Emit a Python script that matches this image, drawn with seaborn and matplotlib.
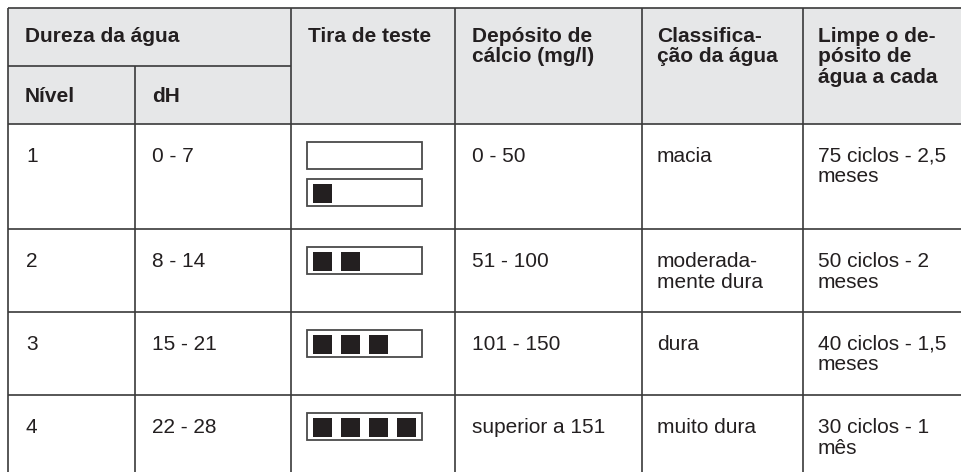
import matplotlib.pyplot as plt
import matplotlib.patches as mpatches
import pandas as pd
import seaborn as sns

# Conteúdo da tabela
header_top = ["Dureza da água", "Tira de teste", "Depósito de\ncálcio (mg/l)",
              "Classifica-\nção da água", "Limpe o de-\npósito de\nágua a cada"]
header_sub = ["Nível", "dH"]
levels = ["1", "2", "3", "4"]
dh_ranges = ["0 - 7", "8 - 14", "15 - 21", "22 - 28"]
strip_marks = [[0, 1], [2], [3], [4]]  # quadrados pretos em cada tira
calcium = ["0 - 50", "51 - 100", "101 - 150", "superior a 151"]
classification = ["macia", "moderada-\nmente dura", "dura", "muito dura"]
cleaning = ["75 ciclos - 2,5\nmeses", "50 ciclos - 2\nmeses",
            "40 ciclos - 1,5\nmeses", "30 ciclos - 1\nmês"]

# Layout (pixels)
W, H = 962, 472
col_x = [8, 135, 291, 455, 642, 803, 980]
head_y = [8, 66, 124]
row_y = [124, 229, 312, 395, 478]
pad_x = 17
line_h = 20.5
fs = 15
txt_color = "#231f20"
grid_color = "#3a3a3a"
head_bg = "#e6e7e8"

sns.set_theme(style="white")
plt.rcParams["font.family"] = ["Liberation Sans", "DejaVu Sans"]

fig = plt.figure(figsize=(W / 100, H / 100), dpi=100)
ax = fig.add_axes([0, 0, 1, 1])
ax.set_xlim(0, W)
ax.set_ylim(H, 0)
ax.axis("off")


def put(x, y, s, bold=False):
    for k, line in enumerate(s.split("\n")):
        ax.text(x, y + k * line_h, line, fontsize=fs, color=txt_color,
                fontweight="bold" if bold else "normal", va="baseline", ha="left")


# fundo do cabeçalho
ax.add_patch(mpatches.Rectangle((col_x[0], head_y[0]), W, head_y[2] - head_y[0],
                                facecolor=head_bg, edgecolor="none", zorder=0))

# textos do cabeçalho
put(col_x[0] + pad_x, head_y[0] + 34, header_top[0], bold=True)
for j, s in enumerate(header_top[1:]):
    put(col_x[j + 2] + (pad_x if j < 2 else 15), head_y[0] + 34, s, bold=True)
put(col_x[0] + pad_x, head_y[1] + 36, header_sub[0], bold=True)
put(col_x[1] + pad_x, head_y[1] + 36, header_sub[1], bold=True)

# linhas da tabela
lw = 1.2
ax.hlines(head_y[0], col_x[0], W + 5, color=grid_color, lw=lw)
ax.hlines(head_y[1], col_x[0], col_x[2], color=grid_color, lw=lw)
for y in row_y[:-1]:
    ax.hlines(y, col_x[0], W + 5, color=grid_color, lw=lw)
ax.vlines(col_x[0], head_y[0], H + 5, color=grid_color, lw=lw)
ax.vlines(col_x[1], head_y[1], H + 5, color=grid_color, lw=lw)
for x in col_x[2:6]:
    ax.vlines(x, head_y[0], H + 5, color=grid_color, lw=lw)

# linhas de dados
cols_text = [levels, dh_ranges, None, calcium, classification, cleaning]
for i in range(len(levels)):
    top = row_y[i]
    for j, col in enumerate(cols_text):
        if col is None:
            continue
        px = pad_x if j < 4 else 15
        put(col_x[j] + px + (1 if j == 0 else 0), top + 38, col[i])

# tiras de teste
strip_w, strip_h, strip_gap = 115, 27, 10
sq, sq_pitch, sq_in = 19, 28, 6
rows = []
for i, marks in enumerate(strip_marks):
    for k, n in enumerate(marks):
        sx = col_x[2] + 16
        sy = row_y[i] + 18 + k * (strip_h + strip_gap)
        ax.add_patch(mpatches.Rectangle((sx, sy), strip_w, strip_h, facecolor="white",
                                        edgecolor="#4a4a4a", lw=1.3, zorder=2))
        for m in range(n):
            rows.append({"x": sx + sq_in + m * sq_pitch + sq / 2,
                         "y": sy + strip_h / 2})
squares = pd.DataFrame(rows)
sns.scatterplot(data=squares, x="x", y="y", marker="s", s=(sq * 0.72) ** 2,
                color=txt_color, linewidth=0, ax=ax, zorder=3, legend=False)
ax.set_xlim(0, W)
ax.set_ylim(H, 0)
ax.axis("off")

fig.savefig("out.png", dpi=100)
